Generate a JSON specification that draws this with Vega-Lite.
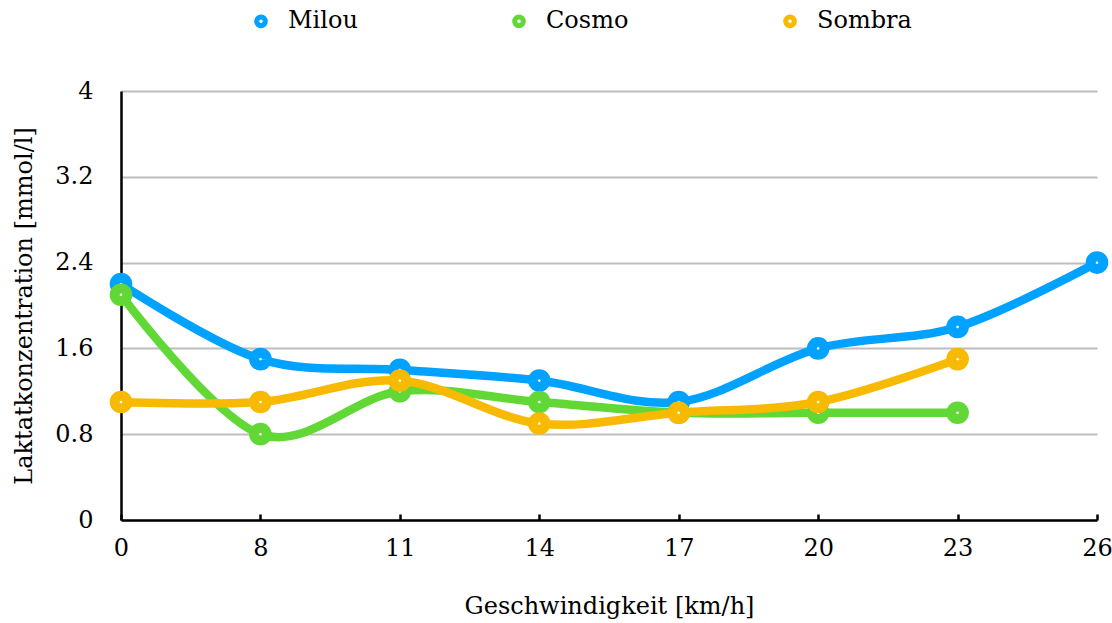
{
  "$schema": "https://vega.github.io/schema/vega-lite/v6.json",
  "width": 976,
  "height": 429,
  "autosize": "none",
  "padding": {"left": 121, "top": 91, "right": 15, "bottom": 103},
  "background": "white",
  "config": {
    "font": "DejaVu Serif",
    "view": {"stroke": null}
  },
  "data": {
    "values": [
      {"series": "Milou", "speed": "0", "value": 2.2},
      {"series": "Milou", "speed": "8", "value": 1.5},
      {"series": "Milou", "speed": "11", "value": 1.4},
      {"series": "Milou", "speed": "14", "value": 1.3},
      {"series": "Milou", "speed": "17", "value": 1.1},
      {"series": "Milou", "speed": "20", "value": 1.6},
      {"series": "Milou", "speed": "23", "value": 1.8},
      {"series": "Milou", "speed": "26", "value": 2.4},
      {"series": "Cosmo", "speed": "0", "value": 2.1},
      {"series": "Cosmo", "speed": "8", "value": 0.8},
      {"series": "Cosmo", "speed": "11", "value": 1.2},
      {"series": "Cosmo", "speed": "14", "value": 1.1},
      {"series": "Cosmo", "speed": "17", "value": 1.0},
      {"series": "Cosmo", "speed": "20", "value": 1.0},
      {"series": "Cosmo", "speed": "23", "value": 1.0},
      {"series": "Sombra", "speed": "0", "value": 1.1},
      {"series": "Sombra", "speed": "8", "value": 1.1},
      {"series": "Sombra", "speed": "11", "value": 1.3},
      {"series": "Sombra", "speed": "14", "value": 0.9},
      {"series": "Sombra", "speed": "17", "value": 1.0},
      {"series": "Sombra", "speed": "20", "value": 1.1},
      {"series": "Sombra", "speed": "23", "value": 1.5}
    ]
  },
  "encoding": {
    "x": {
      "field": "speed",
      "type": "ordinal",
      "sort": ["0", "8", "11", "14", "17", "20", "23", "26"],
      "scale": {"type": "point", "padding": 0},
      "axis": {
        "title": "Geschwindigkeit [km/h]",
        "titleFontSize": 24,
        "titleFontWeight": "normal",
        "titleColor": "black",
        "titlePadding": 34,
        "labelAngle": 0,
        "labelFontSize": 24,
        "labelColor": "black",
        "labelPadding": 22,
        "domainColor": "black",
        "domainWidth": 2.5,
        "tickColor": "black",
        "tickWidth": 2.5,
        "tickSize": -6,
        "grid": false
      }
    },
    "y": {
      "field": "value",
      "type": "quantitative",
      "scale": {"domain": [0, 4]},
      "axis": {
        "title": "Laktatkonzentration [mmol/l]",
        "titleFontSize": 24,
        "titleFontWeight": "normal",
        "titleColor": "black",
        "titlePadding": 18,
        "values": [0, 0.8, 1.6, 2.4, 3.2, 4],
        "format": "~g",
        "labelFontSize": 24,
        "labelColor": "black",
        "labelPadding": 28,
        "ticks": false,
        "domainColor": "black",
        "domainWidth": 2.5,
        "grid": true,
        "gridColor": "#bdbdbd",
        "gridWidth": 2
      }
    },
    "color": {
      "field": "series",
      "type": "nominal",
      "sort": ["Milou", "Cosmo", "Sombra"],
      "scale": {"domain": ["Milou", "Cosmo", "Sombra"], "range": ["#00A2FF", "#61D836", "#F8BA00"]},
      "legend": {
        "title": null,
        "orient": "none",
        "direction": "horizontal",
        "legendX": 128,
        "legendY": -82,
        "symbolType": "circle",
        "symbolSize": 75,
        "symbolStrokeWidth": 5,
        "symbolFillColor": "white",
        "labelFont": "DejaVu Serif",
        "labelFontSize": 24,
        "labelColor": "black",
        "labelOffset": 15,
        "columnPadding": 146,
        "symbolOpacity": 1
      }
    }
  },
  "layer": [
    {
      "mark": {"type": "line", "interpolate": "cardinal", "strokeWidth": 8.5}
    },
    {
      "mark": {"type": "point", "filled": false, "fill": "white", "fillOpacity": 1, "strokeWidth": 10, "size": 160, "opacity": 1}
    }
  ]
}
